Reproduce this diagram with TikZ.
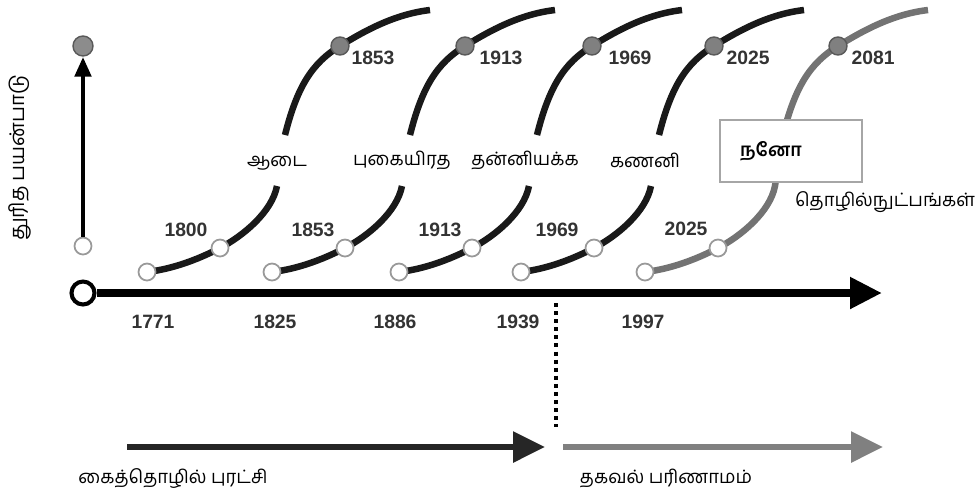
\documentclass[tikz,border=0pt]{standalone}
\usepackage{fontspec}
\setmainfont{Liberation Sans}
\newfontfamily\tamil[Script=Tamil]{Hind Madurai}
\usetikzlibrary{arrows.meta,backgrounds}
\begin{document}
\begin{tikzpicture}[x=0.02cm,y=-0.02cm,
		opendot/.style={circle,draw=black!40,fill=white,line width=1pt,minimum size=0.34cm,inner sep=0pt},
		topdot/.style={circle,draw=black!65,fill=black!50,line width=0.8pt,minimum size=0.36cm,inner sep=0pt},
		scurve/.style={line width=3.7pt,black!90},
		newcurve/.style={line width=3.7pt,black!55},
		year/.style={font=\fontsize{11}{13}\selectfont\bfseries,text=black!80},
		tlabel/.style={font=\tamil\fontsize{10.5}{12.5}\selectfont}]
		\useasboundingbox (0,0) rectangle (980,491);
		% axes
		\node [circle,draw=black,line width=2.3pt,fill=white,minimum size=0.46cm,inner sep=0pt] (origin) at (83,293) {};
		\coordinate (axisend) at (882,293);
		\draw [black,line width=4.5pt,-{Triangle[length=0.64cm,width=0.6cm]}] (origin) -- (axisend);
		\node [opendot] (vbase) at (83,246) {};
		\node [topdot,fill=black!45,minimum size=0.4cm] (vtop) at (83,46) {};
		\draw [black,line width=2.8pt,-{Triangle[length=0.4cm,width=0.32cm]}] (vbase) -- (vtop);
		\node [tlabel,font=\tamil\fontsize{11.5}{13}\selectfont,rotate=90] (speed) at (20,158) {துரித பயன்பாடு};
		% curve points
		\node [opendot] (s1) at (147,272) {};
		\node [opendot] (m1) at (220,248) {};
		\coordinate (a1) at (277,186);
		\coordinate (b1) at (285,135);
		\node [topdot] (u1) at (340,46) {};
		\coordinate (e1) at (430,10);
		\node [opendot] (s2) at (272,272) {};
		\node [opendot] (m2) at (345,248) {};
		\coordinate (a2) at (402,186);
		\coordinate (b2) at (410,135);
		\node [topdot] (u2) at (465,46) {};
		\coordinate (e2) at (555,10);
		\node [opendot] (s3) at (399,272) {};
		\node [opendot] (m3) at (472,248) {};
		\coordinate (a3) at (529,186);
		\coordinate (b3) at (537,135);
		\node [topdot] (u3) at (592,46) {};
		\coordinate (e3) at (682,10);
		\node [opendot] (s4) at (521,272) {};
		\node [opendot] (m4) at (594,248) {};
		\coordinate (a4) at (651,186);
		\coordinate (b4) at (659,135);
		\node [topdot] (u4) at (714,46) {};
		\coordinate (e4) at (804,10);
		\node [opendot] (s5) at (645,272) {};
		\node [opendot] (m5) at (718,248) {};
		\coordinate (a5) at (775,186);
		\coordinate (b5) at (783,135);
		\node [topdot] (u5) at (838,46) {};
		\coordinate (e5) at (928,10);
		\begin{pgfonlayer}{background}
			\draw [scurve] (s1.center) .. controls +(25,-3) and +(-23,12) .. (m1.center) .. controls +(23,-12) and +(-5,26) .. (a1);
			\draw [scurve] (b1) .. controls +(12,-48) and +(-28,17) .. (u1.center) .. controls +(29,-18) and +(-33,4) .. (e1);
			\draw [scurve] (s2.center) .. controls +(25,-3) and +(-23,12) .. (m2.center) .. controls +(23,-12) and +(-5,26) .. (a2);
			\draw [scurve] (b2) .. controls +(12,-48) and +(-28,17) .. (u2.center) .. controls +(29,-18) and +(-33,4) .. (e2);
			\draw [scurve] (s3.center) .. controls +(25,-3) and +(-23,12) .. (m3.center) .. controls +(23,-12) and +(-5,26) .. (a3);
			\draw [scurve] (b3) .. controls +(12,-48) and +(-28,17) .. (u3.center) .. controls +(29,-18) and +(-33,4) .. (e3);
			\draw [scurve] (s4.center) .. controls +(25,-3) and +(-23,12) .. (m4.center) .. controls +(23,-12) and +(-5,26) .. (a4);
			\draw [scurve] (b4) .. controls +(12,-48) and +(-28,17) .. (u4.center) .. controls +(29,-18) and +(-33,4) .. (e4);
			\draw [newcurve] (s5.center) .. controls +(25,-3) and +(-23,12) .. (m5.center) .. controls +(23,-12) and +(-5,26) .. (a5) -- (b5) .. controls +(12,-48) and +(-28,17) .. (u5.center) .. controls +(29,-18) and +(-33,4) .. (e5);
		\end{pgfonlayer}
		% years
		\node [year] (y1771) at (153,322) {1771};
		\node [year] (y1825) at (275,322) {1825};
		\node [year] (y1886) at (395,322) {1886};
		\node [year] (y1939) at (518,322) {1939};
		\node [year] (y1997) at (643,322) {1997};
		\node [year] (y1800) at (186,230) {1800};
		\node [year] (y1853a) at (313,230) {1853};
		\node [year] (y1913a) at (440,230) {1913};
		\node [year] (y1969a) at (557,230) {1969};
		\node [year] (y2025a) at (686,229) {2025};
		\node [year] (y1853b) at (373,58) {1853};
		\node [year] (y1913b) at (501,58) {1913};
		\node [year] (y1969b) at (630,58) {1969};
		\node [year] (y2025b) at (748,58) {2025};
		\node [year] (y2081) at (873,58) {2081};
		% technologies
		\node [tlabel] (cloth) at (277,163) {ஆடை};
		\node [tlabel] (rail) at (402,160) {புகையிரத};
		\node [tlabel] (auto) at (525,160) {தன்னியக்க};
		\node [tlabel] (comp) at (645,160) {கணனி};
		\node [tlabel,font=\tamil\fontsize{10.5}{12.5}\selectfont\bfseries,draw=black!35,line width=0.8pt,fill=white,text width=2.04cm,align=left,inner xsep=0.4cm,minimum height=1.24cm] (nano) at (791,151) {நனோ};
		\node [tlabel] (tech) at (885,202) {தொழில்நுட்பங்கள்};
		% eras
		\coordinate (splittop) at (556,303);
		\coordinate (splitbot) at (556,427);
		\draw [black,line width=2.3pt,dash pattern=on 2.3pt off 2.3pt] (splittop) -- (splitbot);
		\coordinate (hs) at (127,447);
		\coordinate (he) at (545,447);
		\coordinate (is) at (563,447);
		\coordinate (ie) at (883,447);
		\draw [black!85,line width=3.4pt,-{Triangle[length=0.64cm,width=0.6cm]}] (hs) -- (he);
		\draw [black!50,line width=3.4pt,-{Triangle[length=0.64cm,width=0.6cm]}] (is) -- (ie);
		\node [tlabel] (industry) at (173,478) {கைத்தொழில் புரட்சி};
		\node [tlabel] (info) at (666,478) {தகவல் பரிணாமம்};
	\end{tikzpicture}
\end{document}
